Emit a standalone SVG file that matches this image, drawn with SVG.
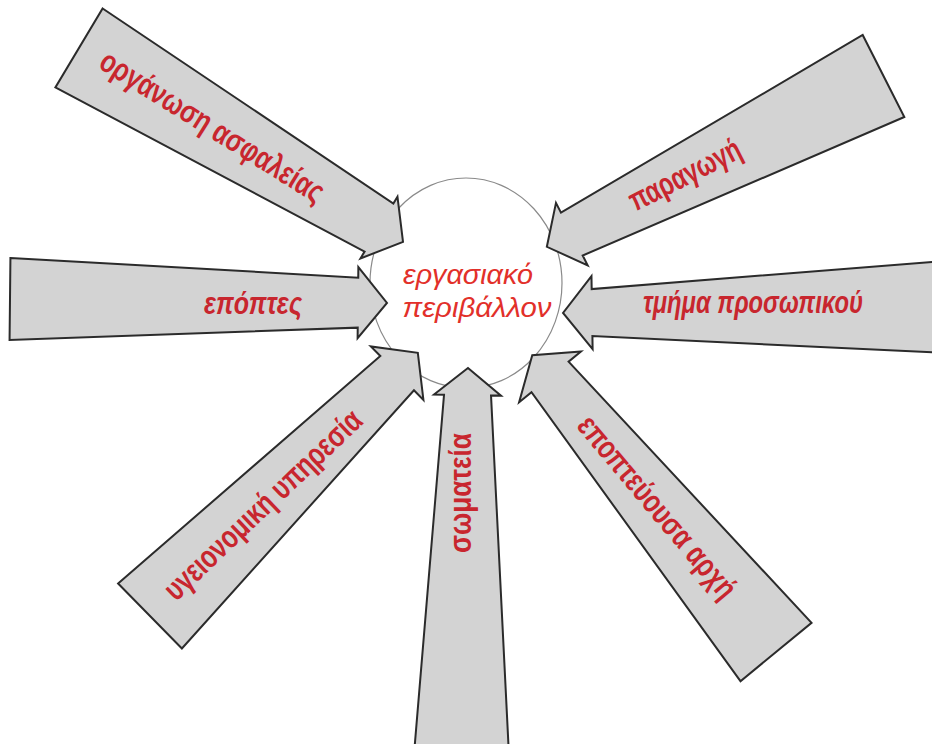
<svg xmlns="http://www.w3.org/2000/svg" width="932" height="744" viewBox="0 0 932 744">
<style>
.arr{fill:#d3d3d3;stroke:#2b2b2b;stroke-width:2;stroke-linejoin:miter}
.lbl{font-family:"Liberation Sans","DejaVu Sans",sans-serif;font-size:32px;font-weight:bold;fill:#c8262e;text-anchor:middle}
.it{font-style:italic}
.ctr{font-family:"Liberation Sans","DejaVu Sans",sans-serif;font-size:28px;font-style:italic;fill:#e2302a;text-anchor:middle}
</style>
<rect width="932" height="744" fill="#ffffff"/>
<g id="center">
<ellipse cx="466" cy="283" rx="96" ry="105" fill="#ffffff" stroke="#8a8a8a" stroke-width="1.2"/>
<text class="ctr" x="468" y="284" textLength="130" lengthAdjust="spacingAndGlyphs">εργασιακό</text>
<text class="ctr" x="477" y="317" textLength="149" lengthAdjust="spacingAndGlyphs">περιβάλλον</text>
</g>
<g id="connectors">
<g id="arrow-safety">
<path class="arr" transform="translate(79,48) rotate(30.9)" d="M0,-46 L349.6,-28 L349.6,-36 L377.6,0 L349.6,36 L349.6,28 L0,46 Z"/>
<text class="lbl" transform="translate(212,127) rotate(32)" x="0" y="10" textLength="258" lengthAdjust="spacingAndGlyphs">οργάνωση ασφαλείας</text>
</g>
<g id="arrow-supervisors">
<path class="arr" transform="translate(10,299) rotate(0.6)" d="M0,-41 L348,-25 L348,-35.5 L377,0 L348,35.5 L348,25 L0,41 Z"/>
<text class="lbl it" x="253" y="314" textLength="98" lengthAdjust="spacingAndGlyphs">επόπτες</text>
</g>
<g id="arrow-production">
<path class="arr" transform="translate(883.5,76) rotate(153.1)" d="M0,-46 L349.5,-24 L349.5,-35 L377.5,0 L349.5,35 L349.5,24 L0,46 Z"/>
<text class="lbl" transform="translate(686,177) rotate(-27)" x="0" y="8" textLength="122" lengthAdjust="spacingAndGlyphs">παραγωγή</text>
</g>
<g id="arrow-personnel">
<path class="arr" transform="translate(945,307) rotate(179.1)" d="M0,-46 L353,-23.5 L353,-36.5 L382,0 L353,36.5 L353,23.5 L0,46 Z"/>
<text class="lbl it" x="753" y="313" textLength="220" lengthAdjust="spacingAndGlyphs">τμήμα προσωπικού</text>
</g>
<g id="arrow-health">
<path class="arr" transform="translate(150,616) rotate(-44.5)" d="M0,-45.5 L346.5,-24 L346.5,-37.5 L375.5,0 L346.5,37.5 L346.5,24 L0,45.5 Z"/>
<text class="lbl" transform="translate(264,506) rotate(-43.6)" x="0" y="9" textLength="260" lengthAdjust="spacingAndGlyphs">υγειονομική υπηρεσία</text>
</g>
<g id="arrow-unions">
<path class="arr" transform="translate(461.5,755) rotate(-89.04)" d="M0,-47.5 L360,-23.5 L360,-33.5 L387,0 L360,33.5 L360,23.5 L0,47.5 Z"/>
<text class="lbl" transform="translate(462,493) rotate(-90)" x="0" y="9" textLength="120" lengthAdjust="spacingAndGlyphs">σωματεία</text>
</g>
<g id="arrow-authority">
<path class="arr" transform="translate(776,652) rotate(-129.4)" d="M0,-46 L356,-24 L356,-40 L384,0 L356,40 L356,24 L0,46 Z"/>
<text class="lbl" transform="translate(656,508) rotate(50)" x="0" y="9" textLength="228" lengthAdjust="spacingAndGlyphs">εποπτεύουσα αρχή</text>
</g>
</g>
</svg>
